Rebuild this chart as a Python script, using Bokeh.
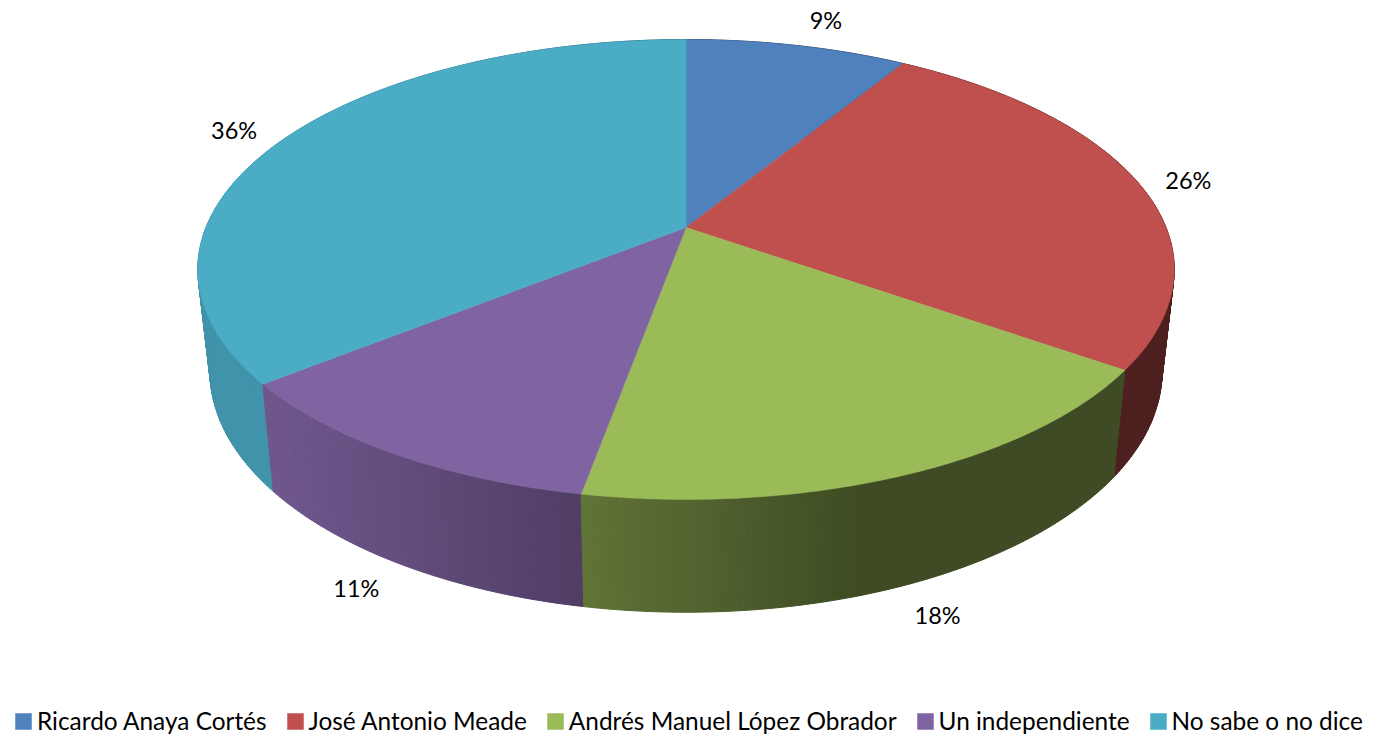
import numpy as np
from bokeh.embed import file_html
from bokeh.models import ColumnDataSource, Legend, LegendItem, Range1d
from bokeh.plotting import figure
from bokeh.resources import INLINE

categories = ["Ricardo Anaya Cortés", "José Antonio Meade", "Andrés Manuel López Obrador",
              "Un independiente", "No sabe o no dice"]
values = [8.76, 25.99, 18.12, 11.40, 35.73]
colors = ["#4F81BD", "#C0504D", "#9BBB59", "#8064A2", "#4BACC6"]
labels = ["9%", "26%", "18%", "11%", "36%"]

# perspective model of the pie, in page pixels
CX, CY, K, A, B = 685.5, 227.0, 0.1826, 222.3, 480.0
S = 0.975
FONT = "Lato"
# where each percentage sits relative to the rim point at its slice's middle
label_dx = [29, 49, 38, -45, -51]
label_dy = [-26, -4, 28, 24, -8]


def top(theta):
    u, v = np.sin(theta), np.cos(theta)
    w = 1 + K * v
    return CX + B * u / w, CY - A * v / w


def bottom(theta):
    x, y = top(theta)
    return CX + (x - CX) * S, y + 100 + 0.047 * (y - CY)


def shade(hex_color, f):
    r, g, b = (int(hex_color[i:i + 2], 16) for i in (1, 3, 5))
    return "#%02x%02x%02x" % (int(r * f), int(g * f), int(b * f))


edges = np.cumsum([0] + values) / sum(values) * 2 * np.pi

wall_x, wall_y, wall_c = [], [], []
top_x, top_y = [], []
for i, col in enumerate(colors):
    a0, a1 = edges[i], edges[i + 1]
    th = np.linspace(a0, a1, max(int((a1 - a0) / 0.012), 2))
    tx, ty = top(th)
    bx, by = bottom(th)
    for j in range(len(th) - 1):
        wall_x.append([tx[j], tx[j + 1], bx[j + 1], bx[j]])
        wall_y.append([ty[j], ty[j + 1], by[j + 1], by[j]])
        xm = (tx[j] + tx[j + 1]) / 2
        wall_c.append(shade(col, float(np.clip(0.87 - 0.0008 * (xm - 274), 0.405, 0.86))))
    top_x.append([CX] + list(tx))
    top_y.append([CY] + list(ty))

p = figure(width=1373, height=737, output_backend="svg", toolbar_location=None,
           x_range=Range1d(0, 1373), y_range=Range1d(737, 0), min_border=0,
           outline_line_color=None, border_fill_color="white", background_fill_color="white")
p.xaxis.visible = False
p.yaxis.visible = False
p.grid.visible = False

order = sorted(range(len(wall_y)), key=lambda n: max(wall_y[n]))
p.patches([wall_x[n] for n in order], [wall_y[n] for n in order],
          fill_color=[wall_c[n] for n in order], line_color=[wall_c[n] for n in order], line_width=1)

src = ColumnDataSource(dict(xs=top_x, ys=top_y, color=colors, name=categories))
tops = p.patches("xs", "ys", source=src, fill_color="color", line_color="color", line_width=0.5)

mid = (edges[:-1] + edges[1:]) / 2
tx, ty = top(mid)
bx, by = bottom(mid)
front = np.cos(mid) < 0
lx = np.where(front, bx, tx) + np.array(label_dx)
ly = np.where(front, by, ty) + np.array(label_dy)
p.text(lx, ly, text=labels, text_font_size="23.5px", text_font={"value": FONT}, text_color="#000000",
       text_align="center", text_baseline="middle")

legend = Legend(items=[LegendItem(label=c, renderers=[tops], index=i) for i, c in enumerate(categories)],
                orientation="horizontal", location=(13, 2), border_line_color=None,
                background_fill_alpha=0, glyph_width=20, glyph_height=20, label_standoff=4,
                spacing=18, padding=0, margin=0, label_text_font=FONT, label_text_font_size="24.4px",
                label_text_color="#000000", label_height=20)
p.add_layout(legend, "center")

open("out.html", "w").write(file_html(p, INLINE))
